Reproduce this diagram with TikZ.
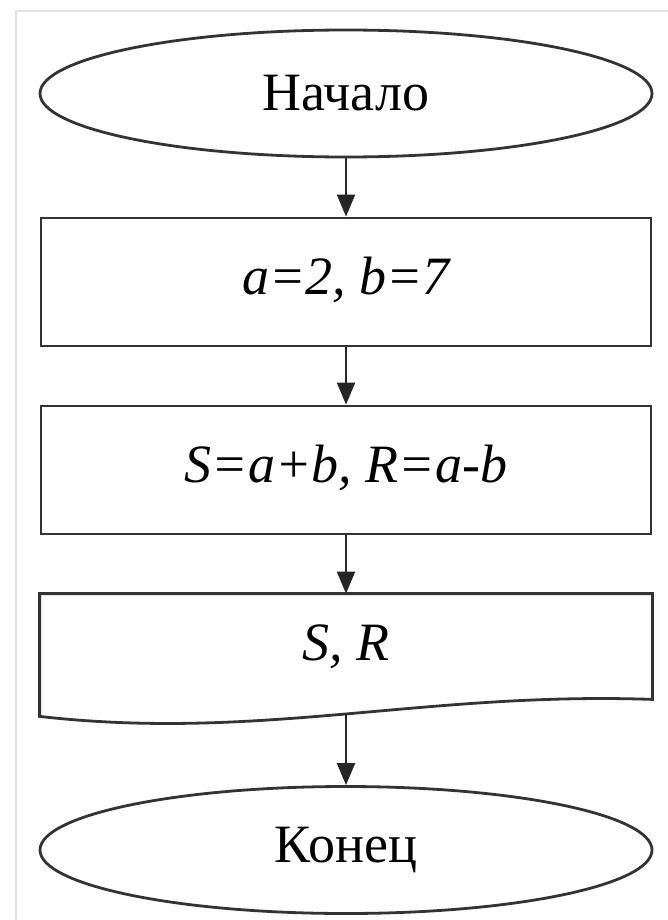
\documentclass[tikz,border=0pt]{standalone}
\usepackage{fontspec}
\setmainfont{Liberation Serif}
\usetikzlibrary{shapes.geometric,arrows.meta}

\tikzset{
  term/.style={ellipse, draw=black!80, line width=1.4pt, minimum width=306pt,
    minimum height=63.5pt, inner sep=0pt, font=\fontsize{27}{32}\selectfont},
  procbox/.style={rectangle, draw=black!80, line width=1.4pt, minimum width=305pt,
    minimum height=64pt, inner sep=0pt, font=\fontsize{27}{32}\selectfont\itshape},
  flow/.style={draw=black!85, line width=1.1pt, -{Triangle[length=11pt,width=9pt]}}
}

\begin{document}
\begin{tikzpicture}[x=0.5pt,y=-0.5pt]
\useasboundingbox (0,0) rectangle (668,920);
\draw[black!12, line width=0.8pt] (16,920) -- (16,11) -- (668,11);

\node[term] (start) at (346,93.5) {Начало};
\node[procbox] (init) at (346,282) {\raisebox{6pt}{a=2, b=7}};
\node[procbox] (calc) at (346,470) {\raisebox{6pt}{S=a+b, R=a-b}};
\node[procbox, draw=none, minimum height=51.5pt] (out) at (346,646.5) {S, R};
% output block with wavy bottom
\draw[black!80, line width=1.4pt] (out.north west) -- (out.north east) -- (out.south east)
  .. controls +(-230,-8) and +(220,25) .. ([yshift=-8.5pt]out.south west) -- cycle;
\coordinate (outb) at ([yshift=-7.5pt]out.south);
\node[term] (end) at (346,850) {Конец};

\draw[flow] (start) -- (init);
\draw[flow] (init) -- (calc);
\draw[flow] (calc) -- (out);
\draw[flow] (outb) -- (end);
\end{tikzpicture}
\end{document}
